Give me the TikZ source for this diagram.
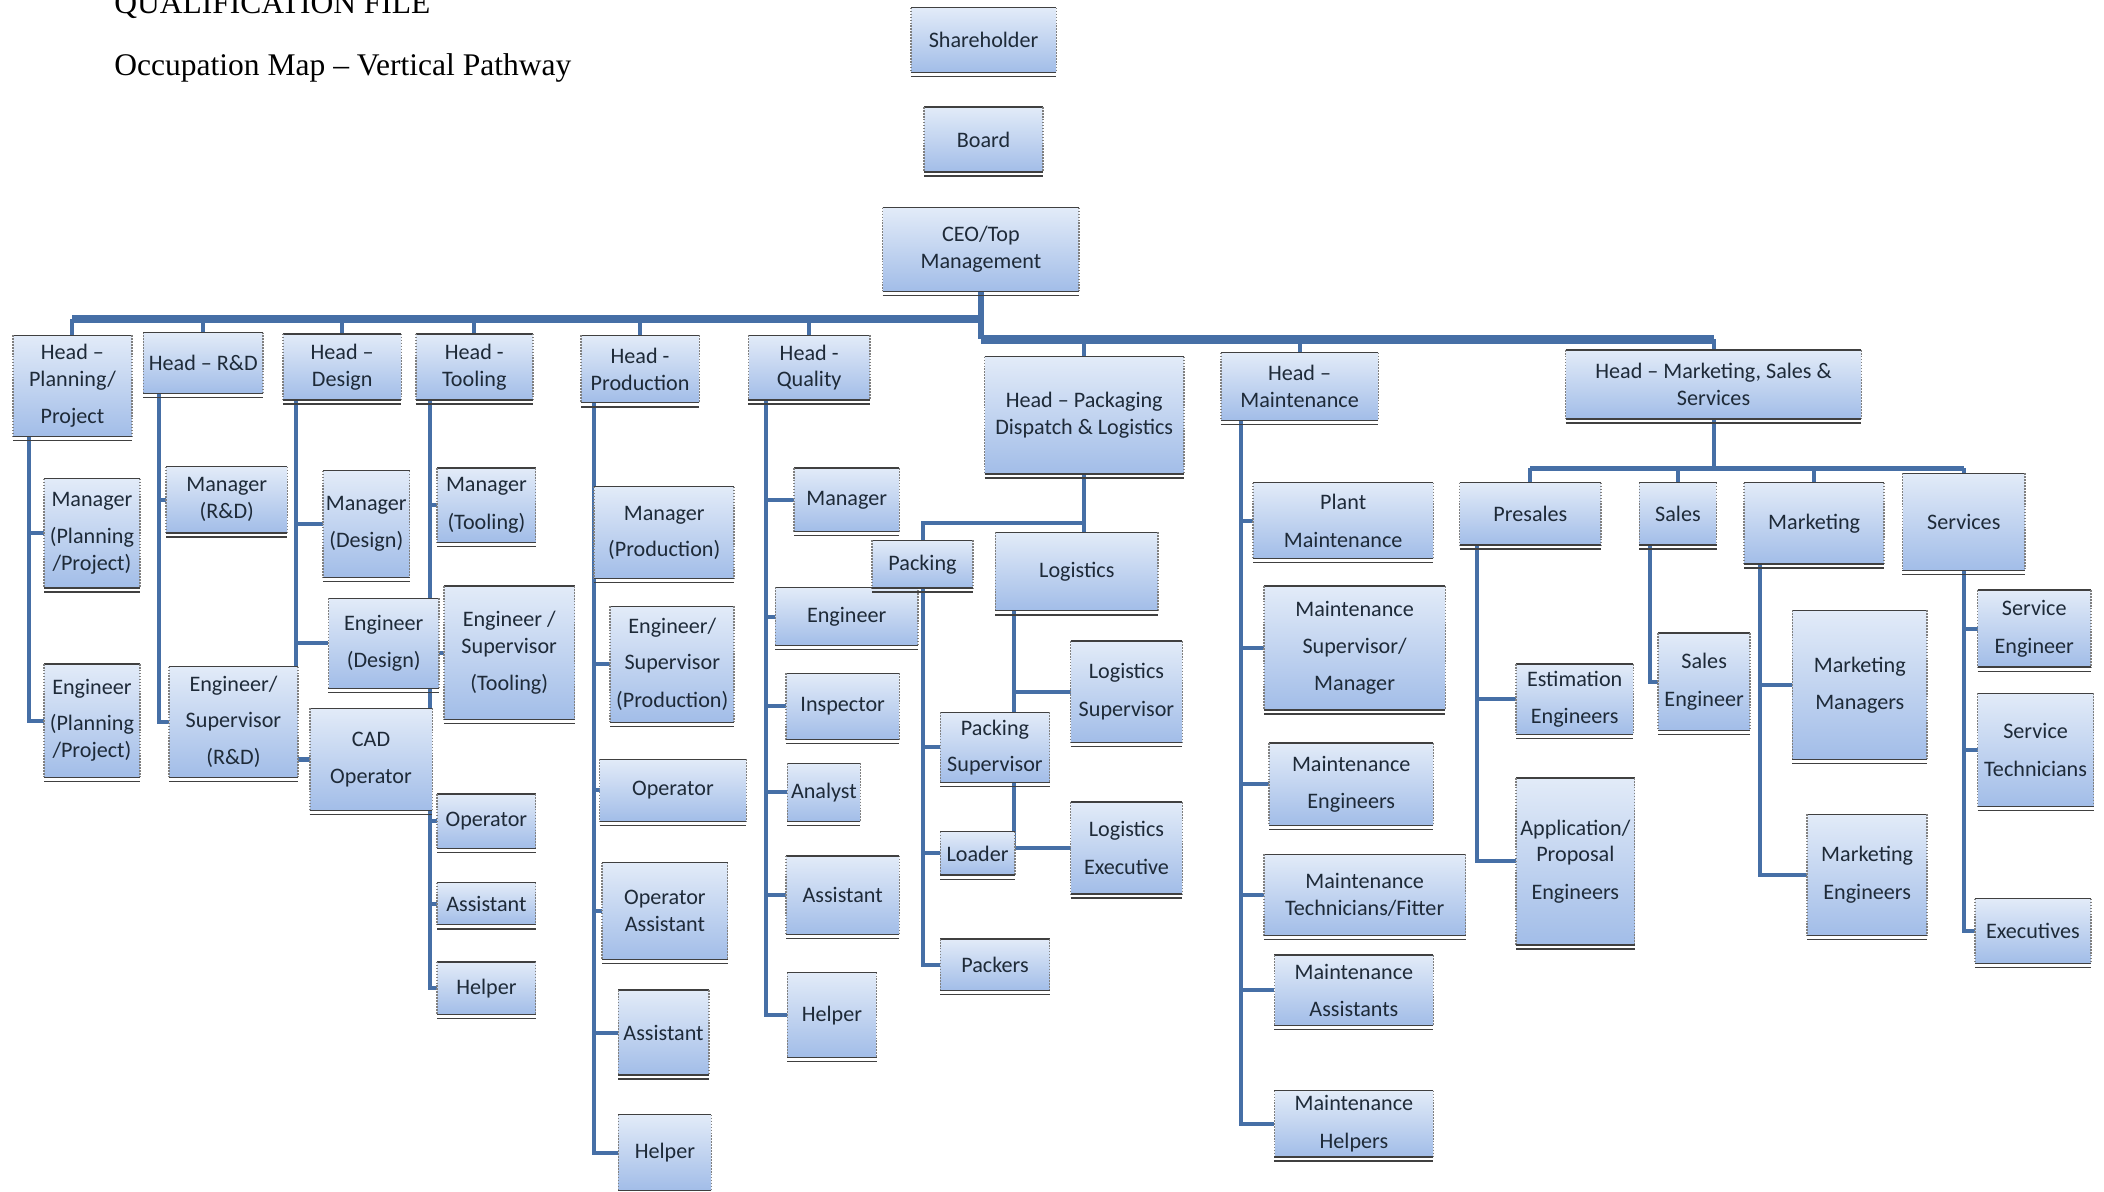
\documentclass[tikz,border=0pt]{standalone}
\usepackage{fontspec}
\setmainfont{Carlito}
\newfontfamily\titlefont{Liberation Serif}
\usetikzlibrary{backgrounds}

\definecolor{boxtop}{HTML}{E2EBF8}
\definecolor{boxbot}{HTML}{A2BDE8}
\definecolor{linkblue}{HTML}{466FA6}
\definecolor{boxedge}{HTML}{404040}
\definecolor{ink}{HTML}{1E2A38}

\tikzset{
  box/.style={top color=boxtop, bottom color=boxbot, inner sep=1pt, align=center,
    text=ink, font=\fontsize{16.5}{20}\selectfont},
  sz/.style 2 args={minimum width=#1, minimum height=#2},
  link/.style={draw=linkblue, line width=3pt},
  bus/.style={draw=linkblue, line width=6pt},
  rim/.style={boxedge, line width=1pt},
  side/.style={gray, densely dotted, line width=1.2pt},
  title/.style={anchor=base west, inner sep=0pt, font=\titlefont\fontsize{23.5}{24}\selectfont}
}

\begin{document}
\begin{tikzpicture}[x=1pt,y=-1pt]
\useasboundingbox (0,0) rectangle (1568,888);

\node[title] (qfile) at (85,10) {QUALIFICATION FILE};
\node[title] (omap) at (85,56) {Occupation Map – Vertical Pathway};

% top
\node[box, sz={108}{48}] (share) at (733,30) {Shareholder};
\node[box, sz={88}{48}] (board) at (733,104) {Board};
\node[box, sz={146}{62}] (ceo) at (731,186) {CEO/Top\\Management};

% heads
\node[box, sz={88}{75}] (hplan) at (54,287.5) {Head –\\Planning/\\[8pt]Project};
\node[box, sz={89}{45}] (hrd) at (151.5,270.5) {Head – R\&D};
\node[box, sz={88}{49}] (hdes) at (255,273.5) {Head –\\Design};
\node[box, sz={87}{49}] (htool) at (353.5,273.5) {Head -\\Tooling};
\node[box, sz={88}{50}] (hprod) at (477,275) {Head -\\Production};
\node[box, sz={90}{48}] (hqual) at (603,274) {Head -\\Quality};
\node[box, sz={148}{87}] (hpack) at (808,309.5) {Head – Packaging\\Dispatch \& Logistics};
\node[box, sz={117}{50}] (hmaint) at (968.5,288) {Head –\\Maintenance};
\node[box, sz={220}{51}] (hmkt) at (1277,286.5) {Head – Marketing, Sales \&\\Services};

% planning, r&d, design, tooling
\node[box, sz={71}{81}] (mplan) at (68.5,397.5) {Manager\\[8pt](Planning\\/Project)};
\node[box, sz={71}{84}] (eplan) at (68.5,537) {Engineer\\[7pt](Planning\\/Project)};
\node[box, sz={90}{49}] (mrd) at (169,372.5) {Manager\\(R\&D)};
\node[box, sz={96}{82}] (erd) at (174,538) {Engineer/\\[7pt]Supervisor\\[8pt](R\&D)};
\node[box, sz={64}{79}] (mdes) at (273,390.5) {Manager\\[8pt](Design)};
\node[box, sz={82}{67}] (edes) at (286,479.5) {Engineer\\[8pt](Design)};
\node[box, sz={91}{76}] (cad) at (276.5,566) {CAD\\[8pt]Operator};
\node[box, sz={73}{55}] (mtool) at (362.5,376.5) {Manager\\[8pt](Tooling)};
\node[box, sz={97}{99}] (etool) at (379.5,486.5) {Engineer /\\Supervisor\\[8pt](Tooling)};
\node[box, sz={73}{40}] (optool) at (362.5,612) {Operator};
\node[box, sz={73}{31}] (astool) at (362.5,673.5) {Assistant};
\node[box, sz={73}{39}] (hetool) at (362.5,736.5) {Helper};

% production
\node[box, sz={104}{68}] (mprod) at (495,397) {Manager\\[7pt](Production)};
\node[box, sz={92}{86}] (eprod) at (501,495) {Engineer/\\[7pt]Supervisor\\[8pt](Production)};
\node[box, sz={109}{46}] (opprod) at (501.5,589) {Operator};
\node[box, sz={93}{72}] (oaprod) at (495.5,679) {Operator\\Assistant};
\node[box, sz={67}{63}] (asprod) at (494.5,769.5) {Assistant};
\node[box, sz={69}{56}] (heprod) at (495.5,859) {Helper};

% quality
\node[box, sz={78}{47}] (mqual) at (631,372.5) {Manager};
\node[box, sz={106}{43}] (equal) at (631,459.5) {Engineer};
\node[box, sz={84}{49}] (iqual) at (628,526.5) {Inspector};
\node[box, sz={54}{43}] (aqual) at (614,590.5) {Analyst};
\node[box, sz={84}{58}] (asqual) at (628,667) {Assistant};
\node[box, sz={66}{63}] (hequal) at (620,756.5) {Helper};

% packaging
\node[box, sz={75}{35}] (packing) at (687.5,420.5) {Packing};
\node[box, sz={121}{58}] (logist) at (802.5,426) {Logistics};
\node[box, sz={81}{52}] (psup) at (741.5,557) {Packing\\[7pt]Supervisor};
\node[box, sz={55}{32}] (loader) at (728.5,636) {Loader};
\node[box, sz={81}{38}] (packers) at (741.5,719) {Packers};
\node[box, sz={83}{75}] (lsup) at (839.5,515.5) {Logistics\\[8pt]Supervisor};
\node[box, sz={83}{68}] (lexec) at (839.5,632) {Logistics\\[8pt]Executive};

% maintenance
\node[box, sz={134}{56}] (pmaint) at (1001,388) {Plant\\[8pt]Maintenance};
\node[box, sz={135}{92}] (msup) at (1009.5,483) {Maintenance\\[7pt]Supervisor/\\[8pt]Manager};
\node[box, sz={122}{61}] (meng) at (1007,584.5) {Maintenance\\[8pt]Engineers};
\node[box, sz={150}{60}] (mtech) at (1017,667) {Maintenance\\Technicians/Fitter};
\node[box, sz={118}{52}] (mass) at (1009,738) {Maintenance\\[8pt]Assistants};
\node[box, sz={118}{49}] (mhelp) at (1009,837.5) {Maintenance\\[8pt]Helpers};

% marketing, sales, services
\node[box, sz={105}{46}] (presales) at (1140.5,383) {Presales};
\node[box, sz={57}{46}] (sales) at (1250.5,383) {Sales};
\node[box, sz={104}{60}] (mkt) at (1352,390) {Marketing};
\node[box, sz={91}{72}] (serv) at (1463.5,389) {Services};
\node[box, sz={87}{52}] (esteng) at (1173.5,521) {Estimation\\[8pt]Engineers};
\node[box, sz={88}{124}] (appeng) at (1174,642) {Application/\\Proposal\\[8pt]Engineers};
\node[box, sz={68}{72}] (saleng) at (1270,508) {Sales\\[8pt]Engineer};
\node[box, sz={100}{111}] (mktman) at (1386,510.5) {Marketing\\[8pt]Managers};
\node[box, sz={89}{90}] (mkteng) at (1391.5,652) {Marketing\\[8pt]Engineers};
\node[box, sz={84}{57}] (serveng) at (1516,468.5) {Service\\[8pt]Engineer};
\node[box, sz={86}{84}] (servtech) at (1517,559) {Service\\[8pt]Technicians};
\node[box, sz={86}{48}] (exec) at (1515,694) {Executives};

% box rims
\foreach \n in {share,board,ceo,hplan,hrd,hdes,htool,hprod,hqual,hpack,hmaint,hmkt,
    mplan,eplan,mrd,erd,mdes,edes,cad,mtool,etool,optool,astool,hetool,
    mprod,eprod,opprod,oaprod,asprod,heprod,mqual,equal,iqual,aqual,asqual,hequal,
    packing,logist,psup,loader,packers,lsup,lexec,
    pmaint,msup,meng,mtech,mass,mhelp,
    presales,sales,mkt,serv,esteng,appeng,saleng,mktman,mkteng,serveng,servtech,exec} {
  \draw[rim] (\n.north west) -- (\n.north east);
  \draw[side] (\n.north west) -- (\n.south west) (\n.north east) -- (\n.south east);
  \draw[rim] (\n.south west) -- (\n.south east);
  \draw[rim] ([yshift=-3]\n.south west) -- ([yshift=-3]\n.south east);
}

\begin{scope}[on background layer]
\coordinate (jl) at (731,238);
\coordinate (jr) at (731,253);
\draw[link, line width=4pt] (ceo.south) -- (jr);
\draw[bus] (jl) -- (jl -| hplan.north);
\draw[bus] (jr) -- (jr -| hmkt.north);
\foreach \h in {hplan,hrd,hdes,htool,hprod,hqual}
  \draw[link] (jl -| \h.north) -- (\h.north);
\foreach \h in {hpack,hmaint,hmkt}
  \draw[link] (jr -| \h.north) -- (\h.north);

\coordinate (cplan) at ([xshift=12]hplan.south west);
\coordinate (crd) at ([xshift=12]hrd.south west);
\coordinate (cdes) at ([xshift=10]hdes.south west);
\coordinate (ctool) at ([xshift=11]htool.south west);
\coordinate (cprod) at ([xshift=10]hprod.south west);
\coordinate (cqual) at ([xshift=13]hqual.south west);
\coordinate (cmaint) at ([xshift=15]hmaint.south west);
\coordinate (cpre) at ([xshift=13]presales.south west);
\coordinate (csal) at ([xshift=8]sales.south west);
\coordinate (cmkt) at ([xshift=12]mkt.south west);
\coordinate (clog) at ([xshift=14]logist.south west);

\foreach \c in {mplan,eplan} \draw[link] (cplan) |- (\c.west);
\foreach \c in {mrd,erd} \draw[link] (crd) |- (\c.west);
\foreach \c in {mdes,edes,cad} \draw[link] (cdes) |- (\c.west);
\foreach \c in {mtool,etool,optool,astool,hetool} \draw[link] (ctool) |- (\c.west);
\foreach \c in {mprod,eprod,opprod,oaprod,asprod,heprod} \draw[link] (cprod) |- (\c.west);
\foreach \c in {mqual,equal,iqual,aqual,asqual,hequal} \draw[link] (cqual) |- (\c.west);
\foreach \c in {pmaint,msup,meng,mtech,mass,mhelp} \draw[link] (cmaint) |- (\c.west);

% packaging & logistics
\coordinate (pj) at (808,390);
\draw[link] (hpack.south) -- (pj) -| (packing.north);
\draw[link] (pj) -- (pj |- logist.north);
\foreach \c in {psup,loader,packers} \draw[link] (packing.south) |- (\c.west);
\draw[link] (clog) |- (lsup.west);
\draw[link] (clog) -- (clog |- psup.north);
\draw[link] (clog |- psup.south) |- (lexec.west);

% marketing, sales & services
\coordinate (mj) at (1277,349);
\draw[link] (hmkt.south) -- (mj);
\draw[link, line width=4pt] (mj -| presales.north) -- (mj -| serv.north);
\foreach \c in {presales,sales,mkt,serv} \draw[link] (mj -| \c.north) -- (\c.north);
\foreach \c in {esteng,appeng} \draw[link] (cpre) |- (\c.west);
\draw[link] (csal) |- (saleng.west);
\foreach \c in {mktman,mkteng} \draw[link] (cmkt) |- (\c.west);
\foreach \c in {serveng,servtech,exec} \draw[link] (serv.south) |- (\c.west);
\end{scope}

\end{tikzpicture}
\end{document}
